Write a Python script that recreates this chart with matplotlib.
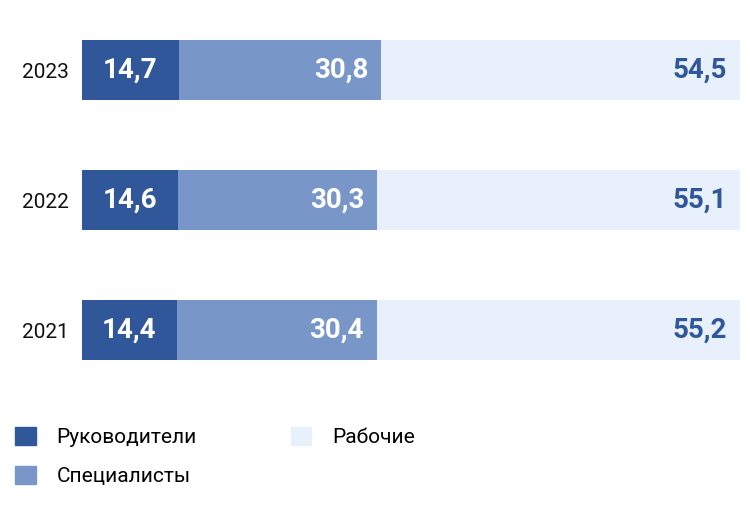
import matplotlib.pyplot as plt
from matplotlib.patches import Patch

plt.rcParams['font.family'] = ['Liberation Sans Narrow', 'Roboto', 'DejaVu Sans']

years = ['2023', '2022', '2021']
managers = [14.7, 14.6, 14.4]
specialists = [30.8, 30.3, 30.4]
workers = [54.5, 55.1, 55.2]
names = ['Руководители', 'Специалисты', 'Рабочие']
colors = ['#30579a', '#7897c8', '#e8f0fb']
text_dark = '#30579a'

fig = plt.figure(figsize=(7.5, 5.31), dpi=100)
ax = fig.add_axes([82 / 750, 0, 658 / 750, 1])
ax.set_xlim(0, 100)
ax.set_ylim(531, 0)
ax.axis('off')

ypos = [70, 200, 330]
for y, yr, m, s, w in zip(ypos, years, managers, specialists, workers):
    ax.barh(y, m, height=60, color=colors[0])
    ax.barh(y, s, left=m, height=60, color=colors[1])
    ax.barh(y, w, left=m + s, height=60, color=colors[2])
    fmt = lambda v: f'{v:.1f}'.replace('.', ',')
    ax.text(m / 2, y, fmt(m), color='white', fontsize=20, fontweight='bold', ha='center', va='center')
    ax.text(m + s - 2, y, fmt(s), color='white', fontsize=20, fontweight='bold', ha='right', va='center')
    ax.text(m + s + w - 2, y, fmt(w), color=text_dark, fontsize=20, fontweight='bold', ha='right', va='center')
    ax.text(-2, y + 2, yr, fontsize=15, ha='right', va='center', color='#111111')

handles = [Patch(color=c) for c in colors]
fig.legend(handles, names, loc='lower left', bbox_to_anchor=(-0.005, 1 - 505 / 531), ncol=2,
           frameon=False, fontsize=15, handlelength=1.0, handleheight=1.0,
           columnspacing=4.5, labelspacing=0.9, handletextpad=1.0)

fig.savefig('out.png', dpi=100)
